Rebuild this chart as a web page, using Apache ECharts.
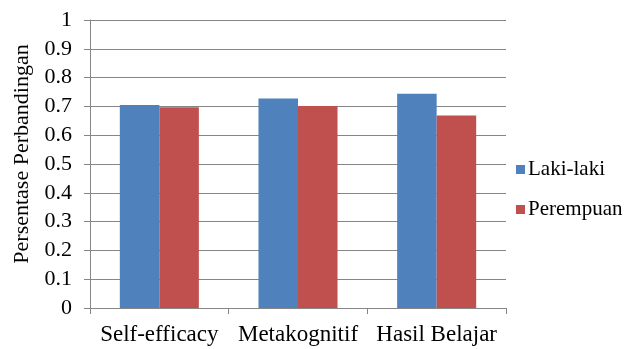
<!DOCTYPE html>
<html><head><meta charset="utf-8">
<script src="https://cdn.jsdelivr.net/npm/echarts@6/dist/echarts.min.js"></script>
<style>html,body{margin:0;padding:0;background:#fff}#c{width:638px;height:349px}</style>
</head><body><div id="c"></div>
<script>
const categories = ['Self-efficacy', 'Metakognitif', 'Hasil Belajar'];
const lakiLaki = [0.705, 0.727, 0.744];
const perempuan = [0.697, 0.701, 0.668];
const yTicks = [0, 0.1, 0.2, 0.3, 0.4, 0.5, 0.6, 0.7, 0.8, 0.9, 1];

const font = '"Liberation Serif", "Times New Roman", serif';
const chart = echarts.init(document.getElementById('c'));
chart.setOption({
  animation: false,
  textStyle: { fontFamily: font },
  grid: { left: 90, right: 132, top: 20, bottom: 41 },
  legend: {
    orient: 'vertical', left: 511, top: 154,
    itemWidth: 9, itemHeight: 9, itemGap: 19, icon: 'rect',
    textStyle: { fontFamily: font, fontSize: 21, color: '#000', padding: [0, 0, 0, -2] },
    data: ['Laki-laki', 'Perempuan']
  },
  xAxis: {
    type: 'category', data: categories,
    axisLine: { lineStyle: { color: '#868686', width: 1 } },
    axisTick: { show: true, length: 6, lineStyle: { color: '#868686' } },
    axisLabel: { fontFamily: font, fontSize: 23, color: '#000', margin: 15, interval: 0, hideOverlap: false }
  },
  yAxis: {
    type: 'value', min: 0, max: 1, interval: 0.1,
    name: 'Persentase Perbandingan', nameLocation: 'middle', nameGap: 54,
    nameTextStyle: { fontFamily: font, fontSize: 22, color: '#000', width: 300, overflow: 'none', padding: [0, 0, 0, 20] },
    axisLine: { show: true, lineStyle: { color: '#868686' } },
    axisTick: { show: true, length: 6, inside: false, lineStyle: { color: '#868686' } },
    splitLine: { lineStyle: { color: '#868686', width: 1 } },
    axisLabel: { fontFamily: font, fontSize: 22, color: '#000', margin: 18,
      formatter: v => { const t = yTicks.find(x => Math.abs(x - v) < 1e-9); return t === undefined ? '' : String(t); } }
  },
  series: [
    { name: 'Laki-laki', type: 'bar', data: lakiLaki, barGap: '0%', barCategoryGap: '43%',
      itemStyle: { color: '#4F81BD' } },
    { name: 'Perempuan', type: 'bar', data: perempuan,
      itemStyle: { color: '#C0504D' } }
  ]
});
</script></body></html>
